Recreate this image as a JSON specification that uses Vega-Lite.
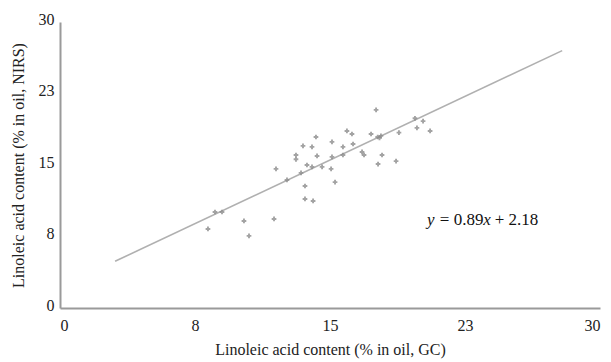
{
  "$schema": "https://vega.github.io/schema/vega-lite/v6.json",
  "width": 540,
  "height": 286,
  "autosize": {"type": "none"},
  "padding": {"left": 60, "top": 22, "right": 11, "bottom": 54},
  "background": "white",
  "config": {
    "view": {"stroke": null},
    "font": "Liberation Serif",
    "axis": {
      "grid": false,
      "ticks": false,
      "domainColor": "#9a9a9a",
      "domainWidth": 2,
      "labelFont": "Liberation Serif",
      "labelFontSize": 16,
      "labelColor": "#222",
      "titleFont": "Liberation Serif",
      "titleFontSize": 16,
      "titleFontWeight": "normal",
      "titleColor": "#222"
    }
  },
  "datasets": {
    "points": [
      {"gc": 12.0, "nirs": 14.6},
      {"gc": 14.22, "nirs": 17.94},
      {"gc": 13.5, "nirs": 17.0},
      {"gc": 14.0, "nirs": 16.9},
      {"gc": 13.11, "nirs": 16.05},
      {"gc": 13.11, "nirs": 15.6},
      {"gc": 14.28, "nirs": 15.95},
      {"gc": 15.11, "nirs": 15.85},
      {"gc": 15.11, "nirs": 17.42},
      {"gc": 15.72, "nirs": 16.9},
      {"gc": 15.72, "nirs": 16.05},
      {"gc": 15.94, "nirs": 18.57},
      {"gc": 16.22, "nirs": 18.25},
      {"gc": 16.28, "nirs": 17.2},
      {"gc": 16.78, "nirs": 16.37},
      {"gc": 16.89, "nirs": 16.05},
      {"gc": 17.28, "nirs": 18.25},
      {"gc": 17.56, "nirs": 20.78},
      {"gc": 17.65, "nirs": 17.94},
      {"gc": 17.83, "nirs": 18.05},
      {"gc": 17.75, "nirs": 17.84},
      {"gc": 17.89, "nirs": 16.05},
      {"gc": 17.67, "nirs": 15.1},
      {"gc": 18.67, "nirs": 15.4},
      {"gc": 18.83, "nirs": 18.4},
      {"gc": 19.72, "nirs": 19.9},
      {"gc": 20.17, "nirs": 19.6},
      {"gc": 19.83, "nirs": 18.9},
      {"gc": 20.56, "nirs": 18.57},
      {"gc": 13.72, "nirs": 15.0},
      {"gc": 14.0, "nirs": 14.8},
      {"gc": 14.56, "nirs": 14.8},
      {"gc": 15.06, "nirs": 14.6},
      {"gc": 13.39, "nirs": 14.17},
      {"gc": 13.61, "nirs": 12.8},
      {"gc": 15.28, "nirs": 13.2},
      {"gc": 13.61, "nirs": 11.44},
      {"gc": 14.06, "nirs": 11.23},
      {"gc": 12.61, "nirs": 13.43},
      {"gc": 8.61, "nirs": 10.07},
      {"gc": 9.0, "nirs": 10.07},
      {"gc": 10.22, "nirs": 9.13},
      {"gc": 11.89, "nirs": 9.34},
      {"gc": 8.22, "nirs": 8.29},
      {"gc": 10.5, "nirs": 7.56}
    ],
    "fit": [
      {"gc": 3.06, "nirs": 4.9},
      {"gc": 27.9, "nirs": 27.0}
    ],
    "eq_italic": [
      {"gc": 20.39, "nirs": 9.23, "label": "y"},
      {"gc": 23.52, "nirs": 9.23, "label": "x"}
    ],
    "eq_roman": [
      {"gc": 21.1, "nirs": 9.23, "label": "= 0.89"},
      {"gc": 24.15, "nirs": 9.23, "label": "+ 2.18"}
    ]
  },
  "layer": [
    {
      "data": {"name": "fit"},
      "mark": {"type": "line", "color": "#b0b0b0", "strokeWidth": 1.6},
      "encoding": {
        "x": {
          "field": "gc", "type": "quantitative",
          "scale": {"domain": [0, 30], "nice": false},
          "axis": {
            "values": [0, 7.5, 15, 22.5, 30],
            "format": ".0f",
            "labelPadding": 9,
            "title": "Linoleic acid content (% in oil, GC)",
            "titlePadding": 8
          }
        },
        "y": {
          "field": "nirs", "type": "quantitative",
          "scale": {"domain": [0, 30], "nice": false},
          "axis": {
            "values": [0, 7.5, 15, 22.5, 30],
            "format": ".0f",
            "labelPadding": 6,
            "labelOffset": -3,
            "title": "Linoleic acid content (% in oil, NIRS)",
            "titlePadding": 12
          }
        }
      }
    },
    {
      "data": {"name": "points"},
      "mark": {"type": "point", "shape": "cross", "filled": true, "size": 22, "color": "#8c8c8c", "opacity": 0.8},
      "encoding": {
        "x": {"field": "gc", "type": "quantitative"},
        "y": {"field": "nirs", "type": "quantitative"}
      }
    },
    {
      "data": {"name": "eq_italic"},
      "mark": {"type": "text", "align": "left", "baseline": "middle", "fontStyle": "italic", "fontSize": 17, "font": "Liberation Serif", "color": "#111"},
      "encoding": {
        "x": {"field": "gc", "type": "quantitative"},
        "y": {"field": "nirs", "type": "quantitative"},
        "text": {"field": "label"}
      }
    },
    {
      "data": {"name": "eq_roman"},
      "mark": {"type": "text", "align": "left", "baseline": "middle", "fontSize": 17, "font": "Liberation Serif", "color": "#111"},
      "encoding": {
        "x": {"field": "gc", "type": "quantitative"},
        "y": {"field": "nirs", "type": "quantitative"},
        "text": {"field": "label"}
      }
    }
  ]
}
